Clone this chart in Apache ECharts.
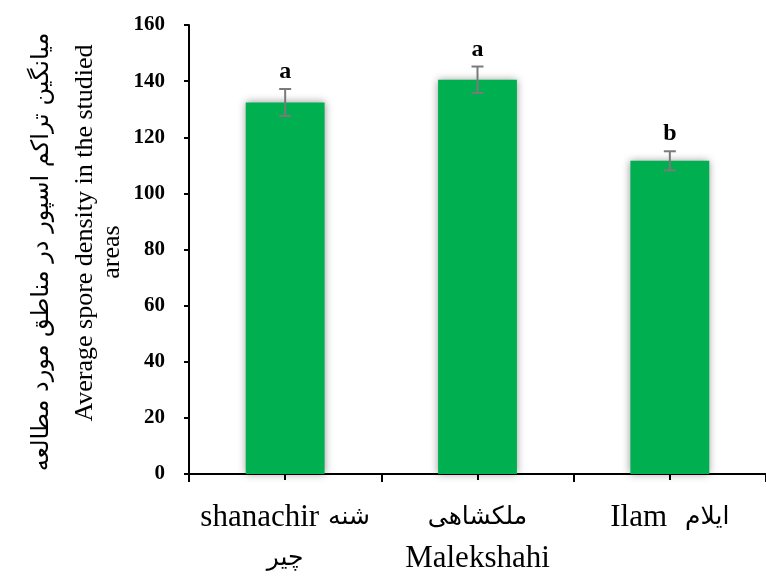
<!DOCTYPE html>
<html>
<head>
<meta charset="utf-8">
<script src="https://cdn.jsdelivr.net/npm/echarts@6/dist/echarts.min.js"></script>
<style>
html,body{margin:0;padding:0;background:#fff;}
#chart{width:766px;height:577px;}
</style>
</head>
<body>
<div id="chart"></div>
<script>
const categories = ['shanachir شنه\nچیر', 'ملکشاهی\nMalekshahi', 'Ilam  ایلام'];
const values = [132.4, 140.5, 111.6];
const errors = [4.8, 4.7, 3.4];
const letters = ['a', 'a', 'b'];
const yTitleFa = 'میانگین تراکم اسپور در مناطق مورد مطالعه';
const yTitleEn1 = 'Average spore density in the studied';
const yTitleEn2 = 'areas';

const serif = '"Liberation Serif", "Times New Roman", "DejaVu Serif", serif';
const faFont = '"DejaVu Sans", "Noto Sans", sans-serif';

// wrap Persian runs and Latin runs in separate rich styles, keeping visual order per line
function richLabel(text) {
  return text.split('\n').map(function (line) {
    const parts = line.split(/(\s+)/);
    return parts.map(function (p) {
      if (p === '') return '';
      if (/^\s+$/.test(p)) return '{sp|' + p + '}';
      if (/[\u0600-\u06FF]/.test(p)) return '{fa|' + p + '}';
      return '{en|' + p + '}';
    }).join('');
  }).join('\n');
}

const chart = echarts.init(document.getElementById('chart'));
const errData = values.map((v, i) => [i, v, errors[i]]);

chart.setOption({
  animation: false,
  backgroundColor: '#ffffff',
  grid: { left: 189, top: 25, width: 580, height: 449 },
  xAxis: [{
    type: 'category',
    data: categories,
    boundaryGap: true,
    axisLine: { lineStyle: { color: '#000', width: 2 } },
    axisTick: { show: true, length: 8, lineStyle: { color: '#000', width: 2 } },
    axisLabel: {
      color: '#000', interval: 0, margin: 23,
      formatter: function (v) { return richLabel(v); },
      rich: {
        en: { fontFamily: serif, fontSize: 31, lineHeight: 41, color: '#000' },
        sp: { fontFamily: serif, fontSize: 36, lineHeight: 41, color: '#000' },
        fa: { fontFamily: faFont, fontSize: 25, lineHeight: 41, color: '#000' }
      }
    }
  }, {
    type: 'category',
    data: categories,
    position: 'bottom',
    boundaryGap: true,
    axisLine: { show: false },
    axisTick: { show: true, alignWithLabel: true, length: 6, lineStyle: { color: '#000', width: 2 } },
    axisLabel: { show: false }
  }],
  yAxis: {
    type: 'value',
    min: 0, max: 160, interval: 20,
    splitLine: { show: false },
    axisLine: { show: true, lineStyle: { color: '#000', width: 2 } },
    axisTick: { show: true, length: 5, lineStyle: { color: '#000', width: 2 } },
    axisLabel: { color: '#000', fontFamily: serif, fontSize: 21, fontWeight: 'bold', margin: 24 }
  },
  graphic: [
    { type: 'text', x: 42, y: 252, rotation: Math.PI / 2,
      style: { text: yTitleFa, font: '24px ' + faFont, fill: '#000', textAlign: 'center', textVerticalAlign: 'middle' } },
    { type: 'text', x: 85, y: 233, rotation: Math.PI / 2,
      style: { text: yTitleEn1, font: '26px ' + serif, fill: '#000', textAlign: 'center', textVerticalAlign: 'middle' } },
    { type: 'text', x: 112, y: 252, rotation: Math.PI / 2,
      style: { text: yTitleEn2, font: '26px ' + serif, fill: '#000', textAlign: 'center', textVerticalAlign: 'middle' } }
  ],
  series: [{
    type: 'bar',
    data: values,
    barWidth: '41%',
    itemStyle: {
      color: '#00b050',
      shadowBlur: 8,
      shadowColor: 'rgba(0,0,0,0.4)'
    }
  }, {
    type: 'custom',
    data: errData,
    z: 10,
    renderItem: function (params, api) {
      const i = api.value(0), v = api.value(1), e = api.value(2);
      const top = api.coord([i, v + e]);
      const bot = api.coord([i, v - e]);
      const hw = 6;
      const st = { stroke: '#7a7a7a', lineWidth: 2 };
      return {
        type: 'group',
        children: [
          { type: 'line', shape: { x1: top[0], y1: top[1], x2: bot[0], y2: bot[1] }, style: st },
          { type: 'line', shape: { x1: top[0] - hw, y1: top[1], x2: top[0] + hw, y2: top[1] }, style: st },
          { type: 'line', shape: { x1: bot[0] - hw, y1: bot[1], x2: bot[0] + hw, y2: bot[1] }, style: st },
          { type: 'text', x: top[0], y: top[1] - 5,
            style: { text: letters[params.dataIndex], font: 'bold 24px ' + serif, fill: '#000', textAlign: 'center', textVerticalAlign: 'bottom' } }
        ]
      };
    }
  }]
});
</script>
</body>
</html>
